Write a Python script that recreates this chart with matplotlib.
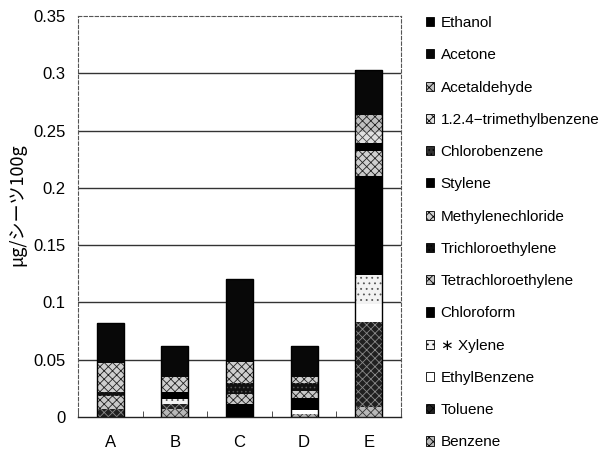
import matplotlib
matplotlib.use("Agg")
import matplotlib.pyplot as plt
from matplotlib.patches import Patch
import numpy as np

categories = ["A", "B", "C", "D", "E"]

# stacked bottom -> top
benzene       = [0.000, 0.0067, 0.000, 0.003, 0.009]
toluene       = [0.007, 0.0050, 0.000, 0.000, 0.074]
ethylbenzene  = [0.000, 0.0000, 0.000, 0.003, 0.016]
xylene        = [0.000, 0.0042, 0.000, 0.000, 0.025]
chloroform    = [0.000, 0.0056, 0.0113, 0.0103, 0.086]
tetrachloro   = [0.011, 0.0000, 0.0088, 0.0066, 0.003]
trichloro     = [0.004, 0.0000, 0.0093, 0.0070, 0.000]
methylenecl   = [0.025, 0.0130, 0.0189, 0.0053, 0.019]
stylene       = [0.000, 0.0000, 0.000, 0.000, 0.007]
chlorobenzene = [0.000, 0.0000, 0.000, 0.000, 0.000]
tmb           = [0.000, 0.0000, 0.000, 0.000, 0.010]
acetaldehyde  = [0.000, 0.0000, 0.000, 0.000, 0.0145]
acetone       = [0.0353, 0.0277, 0.0721, 0.0265, 0.0395]
ethanol       = [0.000, 0.0000, 0.000, 0.000, 0.000]

series_names = ["Benzene", "Toluene", "EthylBenzene", "\u2217 Xylene", "Chloroform",
                "Tetrachloroethylene", "Trichloroethylene", "Methylenechloride",
                "Stylene", "Chlorobenzene", "1.2.4\u2212trimethylbenzene",
                "Acetaldehyde", "Acetone", "Ethanol"]
series_vals = [benzene, toluene, ethylbenzene, xylene, chloroform, tetrachloro,
               trichloro, methylenecl, stylene, chlorobenzene, tmb, acetaldehyde,
               acetone, ethanol]

yticks = [0, 0.05, 0.1, 0.15, 0.2, 0.25, 0.3, 0.35]
ytick_labels = ["0", "0.05", "0.1", "0.15", "0.2", "0.25", "0.3", "0.35"]

# (facecolor, hatch, hatch colour)
styles = {
    "Benzene": ("#b8b8b8", "xxxx", "#333333"),
    "Toluene": ("#202020", "xxxx", "#8a8a8a"),
    "EthylBenzene": ("#ffffff", "", "#000000"),
    "\u2217 Xylene": ("#f2f2f2", "...", "#555555"),
    "Chloroform": ("#000000", "", "#000000"),
    "Tetrachloroethylene": ("#c8c8c8", "xxxx", "#222222"),
    "Trichloroethylene": ("#101010", "....", "#555555"),
    "Methylenechloride": ("#cfcfcf", "xxxx", "#222222"),
    "Stylene": ("#000000", "", "#000000"),
    "Chlorobenzene": ("#303030", "....", "#888888"),
    "1.2.4\u2212trimethylbenzene": ("#e0e0e0", "xxxx", "#444444"),
    "Acetaldehyde": ("#c0c0c0", "xxxx", "#222222"),
    "Acetone": ("#080808", "", "#080808"),
    "Ethanol": ("#000000", "", "#000000"),
}

plt.rcParams['hatch.linewidth'] = 0.6
plt.rcParams['font.family'] = ['Liberation Sans', 'DejaVu Sans']

fig = plt.figure(figsize=(6.11, 4.51), dpi=100)
ax = fig.add_axes([78/611, 1 - 417/451, (401-78)/611, (417-16)/451])

x = np.arange(len(categories))
width = 0.42
bottom = np.zeros(len(categories))
for name, vals in zip(series_names, series_vals):
    fc, hatch, hc = styles[name]
    ax.bar(x, vals, width, bottom=bottom, facecolor=fc, hatch=hatch,
           edgecolor=hc, linewidth=0, zorder=3)
    bottom = bottom + np.array(vals)
# outline of each stack
ax.bar(x, bottom, width, fill=False, edgecolor="black", linewidth=1.0, zorder=4)

ax.set_xlim(-0.5, len(categories) - 0.5)
ax.set_ylim(0, 0.35)
ax.set_yticks(yticks)
ax.set_yticklabels(ytick_labels, fontsize=12)
ax.tick_params(axis='y', length=0, pad=9)
ax.set_xticks(x)
ax.set_xticklabels(categories, fontsize=12)
ax.tick_params(axis='x', length=0, pad=13)
ax.set_xticks(np.arange(len(categories) + 1) - 0.5, minor=True)
ax.tick_params(axis='x', which='minor', direction='in', length=4, color='#333333')

for yv in yticks[1:-1]:
    ax.axhline(yv, color='#333333', linewidth=1.0, zorder=1)

for s in ['top', 'right', 'left']:
    ax.spines[s].set_linestyle((0, (3, 2)))
    ax.spines[s].set_color('#555555')
    ax.spines[s].set_linewidth(0.8)
ax.spines['bottom'].set_color('#222222')
ax.spines['bottom'].set_linewidth(1.0)

ax.set_ylabel("\u03bcg/シーツ100g", fontsize=13,
              family=['Noto Sans CJK JP', 'DejaVu Sans'])
ax.yaxis.set_label_coords((26 - 78) / 323, (417 - 205) / 401)

handles = []
for name in reversed(series_names):
    fc, hatch, hc = styles[name]
    handles.append(Patch(facecolor=fc, hatch=hatch, edgecolor='black', linewidth=0.6))
labels = list(reversed(series_names))
fig.legend(handles, labels, loc='upper left', bbox_to_anchor=(426/611, 1 - 16/451),
           frameon=False, fontsize=11, handlelength=0.55, handleheight=0.55,
           handletextpad=0.4, labelspacing=1.195, borderpad=0, borderaxespad=0)

fig.savefig("out.png", dpi=100)
